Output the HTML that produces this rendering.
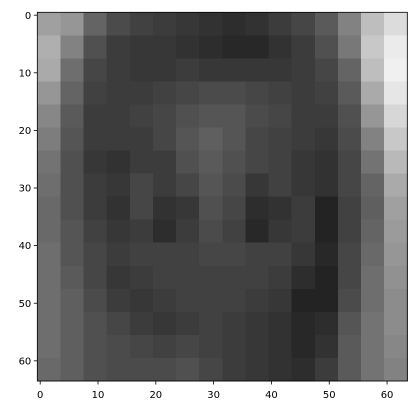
<!DOCTYPE html>
<html><head><meta charset="utf-8"><style>
html,body{margin:0;padding:0;background:#fff;}
svg{display:block;font-family:"DejaVu Sans","Liberation Sans",sans-serif;}
</style></head><body>
<svg id="chart" width="416" height="415" viewBox="0 0 416 415">
<g id="cells" shape-rendering="crispEdges"></g>
<rect x="37.3" y="12.3" width="370" height="368.7" fill="none" stroke="#000" stroke-width="0.8"/>
<g id="xticks"></g>
<g id="yticks"></g>
</svg>
<script>
const gridRows = [
[160,150,100,75,65,60,55,50,45,50,60,70,90,130,190,220],
[175,130,80,60,55,55,50,45,40,40,50,60,80,120,200,235],
[170,110,70,60,55,55,60,55,55,55,55,60,70,100,190,240],
[150,100,65,60,60,65,70,75,75,70,65,60,65,90,170,230],
[135,90,60,60,65,70,80,85,85,75,70,60,60,80,150,215],
[125,85,60,60,60,70,85,95,85,70,65,60,55,75,130,200],
[115,80,55,50,60,60,80,90,80,70,65,55,50,70,115,185],
[110,80,60,55,70,60,70,85,75,55,65,55,50,70,100,170],
[105,80,60,50,70,50,55,80,70,45,50,60,35,65,95,160],
[105,85,65,55,60,45,60,75,65,40,55,60,35,65,100,155],
[110,85,70,60,65,65,65,70,70,65,65,55,40,70,105,150],
[110,90,70,55,60,65,65,65,65,65,60,45,35,70,110,145],
[110,95,75,60,55,60,65,65,65,60,55,35,35,75,110,140],
[110,95,80,70,60,55,60,65,60,55,50,40,45,85,115,140],
[110,95,80,75,70,65,70,65,60,55,50,40,50,90,115,135],
[105,95,80,75,75,75,80,70,60,55,50,45,60,90,115,130]
];
const xTickLabels = [0,10,20,30,40,50,60];
const yTickLabels = [0,10,20,30,40,50,60];
const imgSize = 64;
const blockSize = 4;

const L=37.3, T=12.3, W=370, H=368.7;
const sx = v => L + (v + 0.5) / imgSize * W;
const sy = v => T + (v + 0.5) / imgSize * H;
const NS = "http://www.w3.org/2000/svg";
const cells = document.getElementById('cells');
gridRows.forEach((row, r) => {
  row.forEach((g, c) => {
    const rect = document.createElementNS(NS, 'rect');
    const x0 = L + c*blockSize/imgSize*W, y0 = T + r*blockSize/imgSize*H;
    rect.setAttribute('x', x0);
    rect.setAttribute('y', y0);
    rect.setAttribute('width', blockSize/imgSize*W + 0.5);
    rect.setAttribute('height', blockSize/imgSize*H + 0.5);
    rect.setAttribute('fill', `rgb(${g},${g},${g})`);
    
    
    cells.appendChild(rect);
  });
});
const xg = document.getElementById('xticks');
xTickLabels.forEach(v => {
  const x = sx(v);
  const ln = document.createElementNS(NS, 'line');
  ln.setAttribute('x1', x); ln.setAttribute('x2', x);
  ln.setAttribute('y1', T+H); ln.setAttribute('y2', T+H+3.5);
  ln.setAttribute('stroke', '#000'); ln.setAttribute('stroke-width', '0.8');
  
  
  xg.appendChild(ln);
  const t = document.createElementNS(NS, 'text');
  t.setAttribute('x', x); t.setAttribute('y', T+H+17);
  t.setAttribute('text-anchor', 'middle'); t.setAttribute('font-size', '10');
  t.textContent = v;
  
  
  xg.appendChild(t);
});
const yg = document.getElementById('yticks');
yTickLabels.forEach(v => {
  const y = sy(v);
  const ln = document.createElementNS(NS, 'line');
  ln.setAttribute('x1', L-3.5); ln.setAttribute('x2', L);
  ln.setAttribute('y1', y); ln.setAttribute('y2', y);
  ln.setAttribute('stroke', '#000'); ln.setAttribute('stroke-width', '0.8');
  
  
  yg.appendChild(ln);
  const t = document.createElementNS(NS, 'text');
  t.setAttribute('x', L-6); t.setAttribute('y', y+3.6);
  t.setAttribute('text-anchor', 'end'); t.setAttribute('font-size', '10');
  t.textContent = v;
  
  
  yg.appendChild(t);
});
</script>
</body></html>
